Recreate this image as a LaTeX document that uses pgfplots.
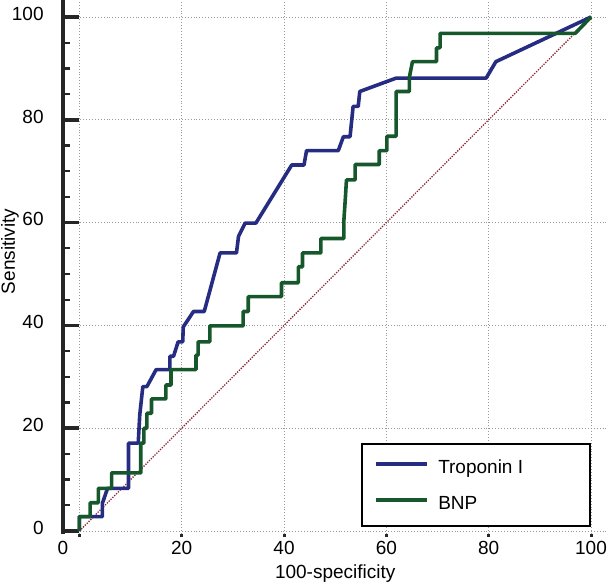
\documentclass[border=0pt]{standalone}
\usepackage{fontspec}
\setmainfont{Liberation Sans}
\usepackage{pgfplots}
\pgfplotsset{compat=1.18}
\definecolor{tropblue}{RGB}{38,44,130}
\definecolor{bnpgreen}{RGB}{22,88,44}
\definecolor{diagred}{RGB}{140,40,50}
\begin{document}
\fontsize{19pt}{22pt}\selectfont
\begin{tikzpicture}
\begin{axis}[
  scale only axis, width=544.3pt, height=533.5pt,
  xmin=-3.2, xmax=103.2, ymin=-0.5, ymax=103.3,
  clip=false,
  axis x line*=bottom, axis y line*=left,
  x axis line style={draw=none},
  y axis line style={line width=3.5pt, -, black!85},
  xtick={0,20,40,60,80,100}, xticklabels={,20,40,60,80,100},
  extra x ticks={-3.2}, extra x tick labels={0}, extra x tick style={grid=none},
  ytick={0,20,40,60,80,100}, minor ytick={5,10,15,25,30,35,45,50,55,65,70,75,85,90,95},
  tick align=inside,
  major tick length=15.5pt, minor tick length=7pt,
  x tick style={draw=none},
  y tick style={line width=3.5pt, black!85},
  minor y tick style={line width=2.3pt},
  grid=major,
  major grid style={gray!80, line width=0.9pt, dash pattern=on 0.9pt off 2pt},
  /pgf/number format/assume math mode=true,
  xticklabel style={anchor=base, yshift=-21.4pt},
  yticklabel style={anchor=east, inner sep=0pt, xshift=-19.2pt, yshift=3.3pt},
  xlabel={100-specificity}, ylabel={Sensitivity},
  label style={font=\fontsize{19.8pt}{22pt}\selectfont},
  every axis x label/.style={at={(rel axis cs:0.5,-0.0757)}, anchor=center},
  every axis y label/.style={at={(rel axis cs:-0.0974,0.529)}, anchor=center, rotate=90},
  legend style={at={(axis cs:100,0.78)}, anchor=south east, draw=black, line width=2.5pt,
    fill=white, inner xsep=12.5pt, inner ysep=14.5pt, row sep=18.5pt, column sep=0pt,
    nodes={inner sep=0pt, text height=15pt, text depth=2pt}},
  legend cell align=left,
  legend image code/.code={\path[draw=none] (0pt,0pt) (62pt,0pt); \draw[#1] (0pt,3pt) -- (51pt,3pt);},
]
\addplot[diagred, line width=1.3pt, dash pattern=on 1.3pt off 1.3pt, forget plot] coordinates {(0,0) (100,100)};
\addplot[tropblue, line width=3.6pt, line join=round] coordinates {
(0,0) (0,2.8) (4.5,2.8) (4.5,5.4) (5.5,8.3) (9.6,8.3) (9.6,17.1) (11.5,17.1)
(11.8,22.6) (12.4,28.1) (13.2,28.1) (15.0,31.4) (17.7,31.4) (17.7,34.0) (18.4,34.0)
(19.3,36.8) (20.2,36.8) (20.3,39.7) (22.3,42.7) (24.4,42.7) (27.5,54.1) (30.7,54.1)
(31.1,57.3) (32.4,59.9) (34.5,59.9) (41.5,71.2) (43.9,71.2) (44.4,74.0) (50.6,74.0)
(51.6,76.7) (52.9,76.7) (53.5,82.6) (54.5,82.6) (54.8,85.5) (61.9,88.1) (79.5,88.1)
(81.4,91.3) (100,100)};
\addlegendentry{\makebox[139pt][l]{Troponin I}}
\addplot[bnpgreen, line width=3.6pt, line join=round] coordinates {
(0,0) (0,2.8) (2.1,2.8) (2.1,5.5) (3.7,5.5) (3.7,8.3) (6.3,8.3) (6.3,11.3) (12.0,11.3)
(12.0,17.1) (12.6,17.1) (12.6,20.0) (13.2,20.0) (13.2,22.9) (14.1,22.9) (14.1,25.7)
(16.9,25.7) (16.9,28.4) (17.9,28.4) (17.9,31.4) (22.8,31.4) (22.8,34.2) (23.2,34.2)
(23.2,36.8) (25.5,36.8) (25.5,39.9) (32.0,39.9) (32.0,42.7) (33.0,42.7) (33.0,45.6)
(39.5,45.6) (39.5,48.3) (42.8,48.3) (42.8,51.4) (43.6,51.4) (43.6,54.1) (47.2,54.1)
(47.2,56.9) (51.7,56.9) (51.7,60.5) (52.0,65.0) (52.2,68.3) (53.9,68.3) (53.9,71.3)
(58.6,71.3) (58.6,74.0) (60.1,74.0) (60.1,76.8) (61.9,76.8) (61.9,85.5) (64.5,85.5)
(64.5,88.3) (65.1,91.3) (69.8,91.3) (69.8,94.0) (70.5,94.0) (70.5,96.8) (96.9,96.8)
(100,100)};
\addlegendentry{\makebox[139pt][l]{BNP}}
\pgfplotsinvokeforeach{0,20,40,60,80,100}{
  \draw[line width=3pt, black!85] (axis cs:#1,-0.5) -- ++(0pt,-3.5pt);
}
\end{axis}
\pgfresetboundingbox
\path[use as bounding box] (current axis.south west) ++(-63pt,-52.4pt) rectangle ([xshift=0.6pt]current axis.north east);
\end{tikzpicture}
\end{document}
